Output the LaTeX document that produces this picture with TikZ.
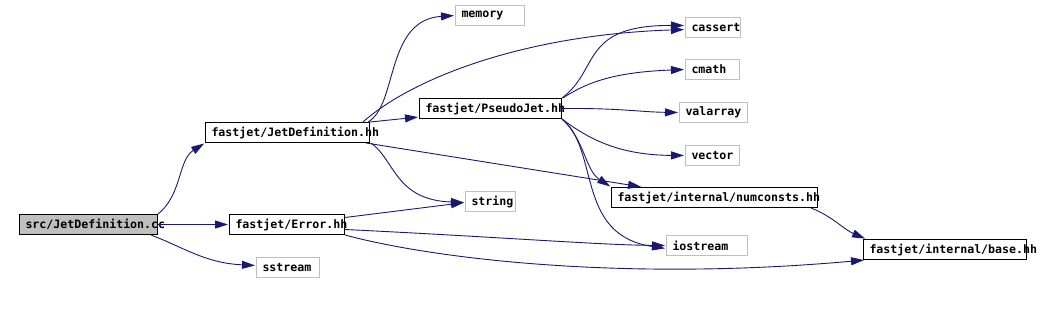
\documentclass[tikz,border=0pt]{standalone}
\usepackage{fontspec}
\newfontfamily\dmono{DejaVu Sans Mono}
\usetikzlibrary{arrows.meta}
\definecolor{edgeblue}{RGB}{25,25,112}
\definecolor{sysgray}{RGB}{191,191,191}
\tikzset{
  box/.style={draw=black, line width=1pt, rectangle, minimum height=20pt, inner xsep=6pt, inner ysep=0pt,
    align=left, anchor=north west, font=\dmono\bfseries\fontsize{11.6}{12}\selectfont},
  sysbox/.style={box, draw=sysgray},
  dep/.style={draw=edgeblue, line width=0.9pt, -{Triangle[length=13pt,width=8pt]}, shorten >=1pt, fill=none},
}
\begin{document}
\begin{tikzpicture}[x=1pt,y=-1pt]
\useasboundingbox (0,0) rectangle (1041,318);
\node[box, fill=sysgray, text width=126pt] (cc) at (19,214) {src/JetDefinition.cc};
\node[box, text width=152pt] (jd) at (205,122) {fastjet/JetDefinition.hh};
\node[box, text width=103pt] (err) at (229,214) {fastjet/Error.hh};
\node[sysbox, text width=51pt] (sst) at (256,257) {sstream};
\node[sysbox, text width=57pt] (mem) at (455,5) {memory};
\node[box, text width=130pt] (pj) at (419,98) {fastjet/PseudoJet.hh};
\node[sysbox, text width=38pt] (str) at (465,191) {string};
\node[sysbox, text width=43pt] (cas) at (685,17) {cassert};
\node[sysbox, text width=42pt] (cm) at (685,59) {cmath};
\node[sysbox, text width=56pt] (val) at (679,102) {valarray};
\node[sysbox, text width=42pt] (vec) at (685,145) {vector};
\node[box, text width=194pt] (nc) at (611,187) {fastjet/internal/numconsts.hh};
\node[sysbox, text width=69pt] (ios) at (666,235) {iostream};
\node[box, text width=151pt] (base) at (863,239) {fastjet/internal/base.hh};

% from src/JetDefinition.cc
\draw[dep] (cc.north east) .. controls (182,195) and (178,160) .. (jd.south west);
\draw[dep] (cc.east) -- (err.west);
\draw[dep] ([xshift=-7pt]cc.south east) .. controls (185,248) and (205,263) .. ([yshift=2pt]sst.west);
% from fastjet/JetDefinition.hh
\draw[dep] ([xshift=-2pt]jd.north east) .. controls (398,105) and (385,20) .. (mem.west);
\draw[dep] ([xshift=-7pt]jd.north east) .. controls (410,80) and (520,35) .. ([yshift=-2pt]cas.west);
\draw[dep] (jd.north east) -- ([yshift=2pt]pj.south west);
\draw[dep] ([xshift=1pt]jd.south east) .. controls (395,160) and (395,200) .. ([yshift=-1pt]str.west);
\draw[dep] ([xshift=-4pt]jd.south east) -- ([xshift=31pt]nc.north west);
% from fastjet/Error.hh
\draw[dep] ([yshift=7pt]err.east) -- ([yshift=-1pt]str.west);
\draw[dep] ([yshift=-5pt]err.east) .. controls (500,237) and (600,245) .. ([yshift=0pt]ios.west);
\draw[dep] (err.south east) .. controls (430,258) and (620,282) .. ([xshift=2pt]base.south west);
% from fastjet/PseudoJet.hh
\draw[dep] (pj.north east) .. controls (600,70) and (580,25) .. ([yshift=2pt]cas.west);
\draw[dep] ([xshift=1pt]pj.north east) .. controls (590,80) and (620,72) .. (cm.west);
\draw[dep] (pj.east) .. controls (620,108) and (640,112) .. (val.west);
\draw[dep] (pj.south east) .. controls (590,140) and (620,155) .. (vec.west);
\draw[dep] (pj.south east) .. controls (585,140) and (585,170) .. (nc.north west);
\draw[dep] (pj.south east) .. controls (600,150) and (575,235) .. ([yshift=-3pt]ios.west);
% from numconsts
\draw[dep] ([xshift=-7pt]nc.south east) .. controls (830,215) and (845,230) .. ([xshift=3pt]base.north west);
\end{tikzpicture}
\end{document}
